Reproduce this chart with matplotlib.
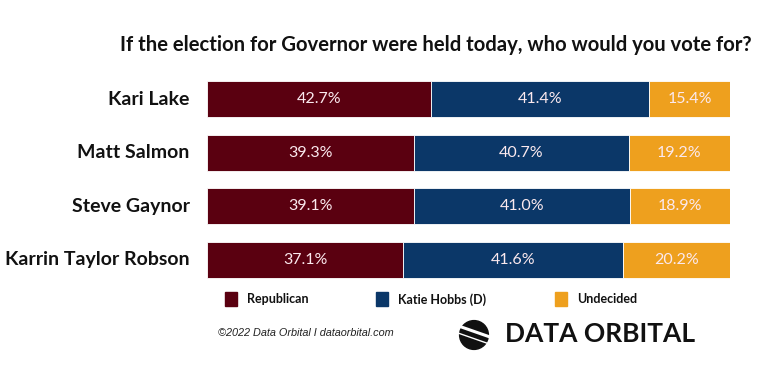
import matplotlib
matplotlib.use("Agg")
import matplotlib.pyplot as plt
from matplotlib.patches import Circle, Rectangle
import numpy as np

candidates = ["Kari Lake", "Matt Salmon", "Steve Gaynor", "Karrin Taylor Robson"]
republican = [42.7, 39.3, 39.1, 37.1]
hobbs = [41.4, 40.7, 41.0, 41.6]
undecided = [15.4, 19.2, 18.9, 20.2]
series_names = ["Republican", "Katie Hobbs (D)", "Undecided"]
colors = ["#5a0010", "#0b3768", "#eea01e"]

plt.rcParams['font.family'] = ['Lato', 'DejaVu Sans']

fig = plt.figure(figsize=(7.68, 3.68), dpi=100)
ax = fig.add_axes([0.2695, 0.2207, 0.681, 0.583])

vals = np.array([republican, hobbs, undecided])
totals = vals.sum(axis=0)
shares = vals / totals * 100
y = np.arange(len(candidates))
left = np.zeros(len(candidates))
for i in range(3):
    ax.barh(y, shares[i], left=left, height=0.67, color=colors[i],
            edgecolor="white", linewidth=0.6)
    for j in range(len(candidates)):
        ax.text(left[j] + shares[i][j] / 2, y[j], f"{vals[i][j]:.1f}%",
                ha="center", va="center", color="#fbe9ee", fontsize=11.5)
    left += shares[i]

ax.set_xlim(0, 100)
ax.set_ylim(3.5, -0.5)
ax.axis("off")

for j, name in enumerate(candidates):
    ax.text(-3.3, y[j], name, ha="right", va="center", fontsize=14,
            fontweight="bold", color="#111111")

fig.text(0.979, 0.878, "If the election for Governor were held today, who would you vote for?",
         ha="right", va="center", fontsize=14.6, fontweight="bold", color="#111111")

# legend
leg_x = [0.293, 0.4896, 0.7227]
for i in range(3):
    fig.patches.append(Rectangle((leg_x[i], 0.168), 0.0156, 0.038, color=colors[i],
                                 transform=fig.transFigure, figure=fig))
    fig.text(leg_x[i] + 0.029, 0.187, series_names[i], ha="left", va="center",
             fontsize=9, fontweight="bold", color="#111111")

fig.text(0.284, 0.095, "\u00a92022 Data Orbital I dataorbital.com", ha="left", va="center",
         fontsize=7.8, style="italic", color="#222222", family=["Liberation Sans", "DejaVu Sans"])

# logo
lax = fig.add_axes([456 / 768, 1 - 353 / 368, 36 / 768, 36 / 368])
lax.set_xlim(-1.25, 1.25)
lax.set_ylim(-1.25, 1.25)
lax.set_aspect("equal")
lax.axis("off")
lax.add_patch(Circle((0, 0), 1.0, color="#111111"))
t = np.linspace(-1.1, 1.1, 50)
lax.plot(t, 0.25 - 0.35 * t, color="white", lw=2.2)
lax.plot(t, -0.25 - 0.35 * t, color="white", lw=1.0)

fig.text(505 / 768, 0.093, "DATA ORBITAL", ha="left", va="center", fontsize=19,
         fontweight="bold", color="#111111")

fig.savefig("out.png", dpi=100, facecolor="white")
